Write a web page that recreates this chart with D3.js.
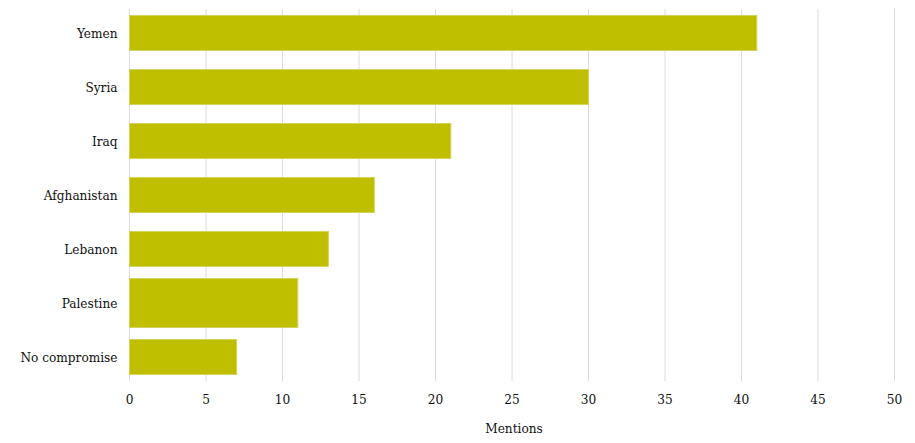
<!DOCTYPE html>
<html>
<head>
<meta charset="utf-8">
<script src="https://cdn.jsdelivr.net/npm/d3@7"></script>
<style>
  body { margin: 0; background: #fff; }
  text { font-family: "DejaVu Serif Condensed", "DejaVu Serif", serif; fill: #111; }
</style>
</head>
<body>
<div id="chart"></div>
<script>
const categories = ["Yemen", "Syria", "Iraq", "Afghanistan", "Lebanon", "Palestine", "No compromise"];
const mentions = [41, 30, 21, 16, 13, 11, 7];
const xTicks = [0, 5, 10, 15, 20, 25, 30, 35, 40, 45, 50];
const highlighted = "Palestine";

const width = 915, height = 443;
const margin = { top: 9, right: 20, bottom: 62, left: 129.5 };

const svg = d3.select("#chart").append("svg")
  .attr("width", width)
  .attr("height", height);

const x = d3.scaleLinear()
  .domain([0, 50])
  .range([margin.left, width - margin.right - 0.5]);

const y = d3.scaleBand()
  .domain(categories)
  .range([margin.top, height - margin.bottom])
  .paddingInner(0.352)
  .paddingOuter(0.12);

// grid
svg.append("g")
  .selectAll("line")
  .data(xTicks)
  .join("line")
  .attr("x1", d => x(d))
  .attr("x2", d => x(d))
  .attr("y1", margin.top)
  .attr("y2", height - margin.bottom)
  .attr("stroke", "#dcdcdc")
  .attr("stroke-width", 1);

// bars (the highlighted one is drawn a bit thicker, as in the original)
const barH = d => d === highlighted ? y.bandwidth() * 1.4 : y.bandwidth();

svg.append("g")
  .selectAll("rect")
  .data(categories)
  .join("rect")
  .attr("x", x(0))
  .attr("y", d => y(d) + y.bandwidth() / 2 - barH(d) / 2)
  .attr("height", barH)
  .attr("width", (d, i) => x(mentions[i]) - x(0))
  .attr("fill", "#bfbf00")
  .attr("stroke", "#d3d35a")
  .attr("stroke-width", 1);

// y labels
svg.append("g")
  .selectAll("text")
  .data(categories)
  .join("text")
  .attr("x", margin.left - 12)
  .attr("y", d => y(d) + y.bandwidth() / 2)
  .attr("dy", "0.35em")
  .attr("text-anchor", "end")
  .attr("font-size", "13.5px")
  .text(d => d);

// x tick labels
svg.append("g")
  .selectAll("text")
  .data(xTicks)
  .join("text")
  .attr("x", d => x(d))
  .attr("y", 399)
  .attr("dy", "0.35em")
  .attr("text-anchor", "middle")
  .attr("font-size", "13.5px")
  .text(d => d);

svg.append("text")
  .attr("x", 514)
  .attr("y", 428)
  .attr("dy", "0.35em")
  .attr("text-anchor", "middle")
  .attr("font-size", "13.5px")
  .text("Mentions");
</script>
</body>
</html>
